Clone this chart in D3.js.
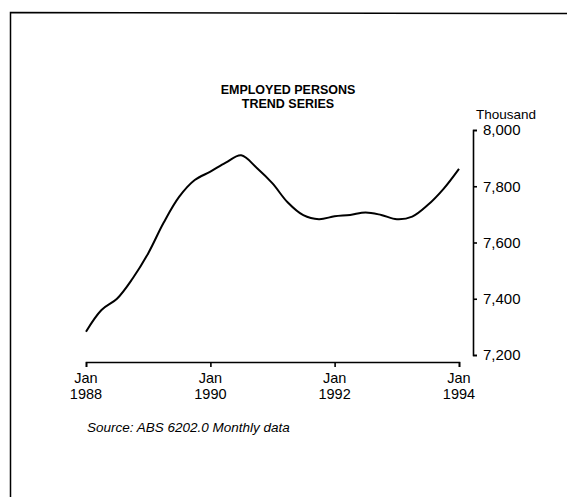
<!DOCTYPE html>
<html><head><meta charset="utf-8">
<script src="https://cdn.jsdelivr.net/npm/d3@7"></script>
<style>
body{margin:0;background:#fff;}
text{font-family:"Liberation Sans",Arial,Helvetica,sans-serif;fill:#000;}
</style></head><body>
<svg id="c" width="567" height="497"></svg>
<script>
// Data (quarterly readings, thousands of employed persons)
const months = [0,3,6,9,12,15,18,21,24,27,30,33,36,39,42,45,48,51,54,57,60,63,66,69,72]; // months since Jan 1988
const employed = [7283,7360,7400,7472,7562,7670,7762,7822,7852,7884,7910,7865,7810,7742,7697,7683,7693,7698,7707,7698,7683,7692,7733,7790,7862];
const yTicks = [7200,7400,7600,7800,8000];
const xTickYears = [1988,1990,1992,1994];
const titleLines = ["EMPLOYED PERSONS","TREND SERIES"];
const unitLabel = "Thousand";
const sourceText = "Source: ABS 6202.0 Monthly data";

const svg = d3.select("#c");
const data = months.map((m,i)=>({date:new Date(1988, m, 1), v:employed[i]}));

const x = d3.scaleTime().domain([new Date(1988,0,1), new Date(1994,0,1)]).range([86,459]);
const y = d3.scaleLinear().domain([7200,8000]).range([355,130]);

// frame (left and top edges)
svg.append("path").attr("d","M10.5,497 L10.5,12.5 L567,13.5")
  .attr("fill","none").attr("stroke","#000").attr("stroke-width",1.5);

// title
svg.append("g").selectAll("text").data(titleLines).join("text")
  .attr("x",288).attr("y",(d,i)=>94+i*14).attr("text-anchor","middle")
  .attr("font-weight","bold").attr("font-size","12.5px").text(d=>d);

// y axis
const ya = svg.append("g").attr("transform","translate(473,0)")
  .call(d3.axisRight(y).tickValues(yTicks).tickSize(4).tickSizeOuter(4).tickPadding(6)
     .tickFormat(d3.format(",")));
ya.selectAll("path,line").attr("stroke","#000").attr("stroke-width",1.6);
ya.selectAll("text").attr("font-size","15px").attr("font-family","Liberation Sans, Arial, sans-serif");

svg.append("text").attr("x",476).attr("y",119).attr("font-size","13.5px").text(unitLabel);

// x axis
const xa = svg.append("g").attr("transform","translate(0,362)")
  .call(d3.axisBottom(x).tickValues(xTickYears.map(yr=>new Date(yr,0,1))).tickSize(5).tickSizeOuter(5).tickFormat(""));
xa.selectAll("path,line").attr("stroke","#000").attr("stroke-width",1.6);
const xl = svg.append("g").selectAll("text").data(xTickYears).join("text")
  .attr("x",d=>x(new Date(d,0,1))).attr("text-anchor","middle").attr("font-size","14.5px");
xl.append("tspan").attr("x",d=>x(new Date(d,0,1))).attr("y",383).text("Jan");
xl.append("tspan").attr("x",d=>x(new Date(d,0,1))).attr("y",399).text(d=>d);

// line
svg.append("path").datum(data)
  .attr("d", d3.line().x(d=>x(d.date)).y(d=>y(d.v)).curve(d3.curveCatmullRom.alpha(0.5)))
  .attr("fill","none").attr("stroke","#000").attr("stroke-width",2);

// source
svg.append("text").attr("x",87).attr("y",432).attr("font-size","13.5px")
  .attr("font-style","italic").text(sourceText);
</script>
</body></html>
